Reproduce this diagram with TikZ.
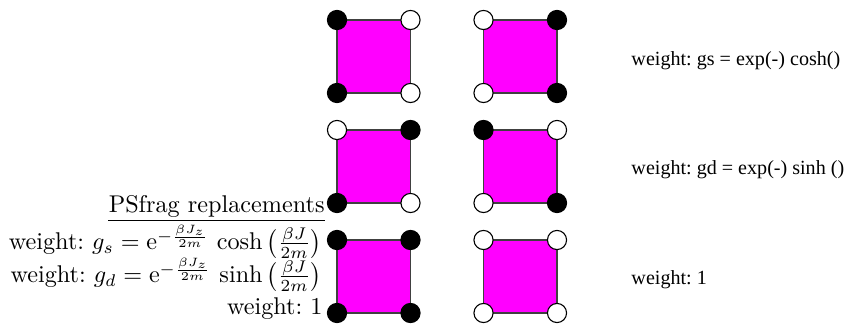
\documentclass[tikz,border=0pt]{standalone}
\usepackage{amsmath}
\usepackage{fontspec}
\newfontfamily\timesfont{Liberation Serif}
\definecolor{plaqfill}{RGB}{255,0,255}
\frenchspacing
\begin{document}
\begin{tikzpicture}[x=0.4132pt, y=-0.4132pt,
    plaq/.style={draw=black!75, fill=plaqfill, line width=0.45pt},
    whitedot/.style={circle, draw=black, fill=white, inner sep=0pt, minimum size=7.9pt, line width=0.45pt},
    blackdot/.style={whitedot, fill=black},
    tag/.style={anchor=base east, inner sep=0pt},
    weight/.style={anchor=base west, inner sep=0pt, font=\timesfont\fontsize{8.3}{10}\selectfont}]
\useasboundingbox (0,0) rectangle (845,329);

% plaquettes with their corner sites (tl, tr, bl, br)
\foreach \n/\x/\y/\a/\b/\c/\d in {
    sa/337/20/blackdot/whitedot/blackdot/whitedot,
    sb/483.5/20/whitedot/blackdot/whitedot/blackdot,
    da/337/130/whitedot/blackdot/blackdot/whitedot,
    db/483.5/130/blackdot/whitedot/whitedot/blackdot,
    oa/337/240/blackdot/blackdot/blackdot/blackdot,
    ob/483.5/240/whitedot/whitedot/whitedot/whitedot} {
    \coordinate (\n tl) at (\x,\y);
    \coordinate (\n tr) at (\x+73.5,\y);
    \coordinate (\n bl) at (\x,\y+73);
    \coordinate (\n br) at (\x+73.5,\y+73);
    \filldraw[plaq] (\n tl) -- (\n tr) -- (\n br) -- (\n bl) -- cycle;
    \node[\a] (\n-a) at (\n tl) {};
    \node[\b] (\n-b) at (\n tr) {};
    \node[\c] (\n-c) at (\n bl) {};
    \node[\d] (\n-d) at (\n br) {};
}

% weight labels
\node[weight] (wgs) at (631,66) {weight: gs = exp(-) cosh()};
\node[weight] (wgd) at (631,175) {weight: gd = exp(-) sinh ()};
\node[weight] (wone) at (631,285) {weight: 1};

% psfrag replacements
\node[tag] (psfrag) at (325,213) {PSfrag replacements};
\draw[line width=0.4pt] ([yshift=-2.9pt]psfrag.base west) -- ([yshift=-2.9pt]psfrag.base east);
\node[tag] (tgs) at (322,250) {weight: $g_s = \mathrm{e}^{-\frac{\beta J_z}{2m}}\,\cosh\,\bigl(\frac{\beta J}{2m}\bigr)$};
\node[tag] (tgd) at (322,283) {weight: $g_d = \mathrm{e}^{-\frac{\beta J_z}{2m}}\,\sinh\,\bigl(\frac{\beta J}{2m}\bigr)$};
\node[tag] (tone) at (323,315) {weight: 1};

\end{tikzpicture}
\end{document}
